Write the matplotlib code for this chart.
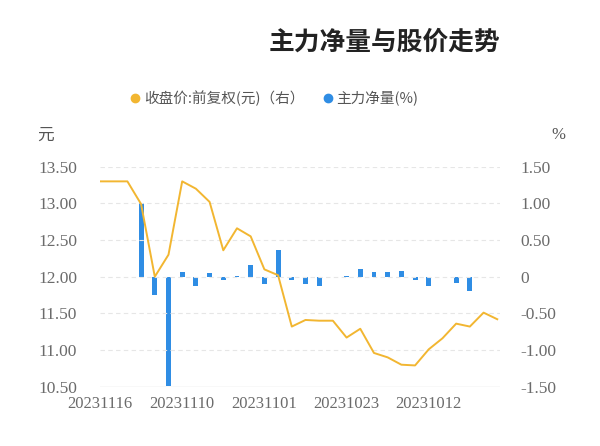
import matplotlib
matplotlib.use("Agg")
import matplotlib.pyplot as plt
from matplotlib.lines import Line2D
import numpy as np

plt.rcParams['font.family'] = ['Noto Sans CJK SC', 'DejaVu Sans']

# data, in display order (left -> right)
price = [13.30, 13.30, 13.30, 12.99, 12.00, 12.30, 13.30, 13.20, 13.02, 12.36,
         12.66, 12.55, 12.10, 12.02, 11.32, 11.41, 11.40, 11.40, 11.17, 11.29,
         10.96, 10.90, 10.80, 10.79, 11.01, 11.16, 11.36, 11.32, 11.51, 11.42]
net_pct = [0.0, 0.0, 0.0, 1.00, -0.25, -1.49, 0.06, -0.13, 0.05, -0.05,
           0.01, 0.16, -0.10, 0.36, -0.04, -0.10, -0.12, -0.01, 0.01, 0.11,
           0.06, 0.07, 0.08, -0.05, -0.12, -0.01, -0.09, -0.20, -0.01, -0.01]
tick_idx = [0, 6, 12, 18, 24]
tick_labels = ["20231116", "20231110", "20231101", "20231023", "20231012"]
price_ticks = [10.5, 11.0, 11.5, 12.0, 12.5, 13.0, 13.5]
pct_ticks = [-1.5, -1.0, -0.5, 0.0, 0.5, 1.0, 1.5]

BLUE = '#2f8de4'
GOLD = '#f2b631'
SERIF = 'Liberation Serif'
TXT = '#6b6b6b'

fig = plt.figure(figsize=(6, 4.46), dpi=100)
ax = fig.add_axes([100 / 600, 1 - 386.7 / 446, 400 / 600, 220 / 446])
ax2 = ax.twinx()

x = np.arange(len(price))
ax2.bar(x, net_pct, width=0.36, color=BLUE, zorder=2)
ax.plot(x, price, color=GOLD, lw=1.4, zorder=3)
ax.set_zorder(ax2.get_zorder() + 1)
ax.patch.set_visible(False)

ax.set_xlim(0, 29.2)
ax.set_ylim(10.5, 13.5)
ax2.set_ylim(-1.5, 1.5)

ax.set_yticks(price_ticks)
ax.set_yticklabels(['%.2f' % v for v in price_ticks], family=SERIF, fontsize=12.5, color=TXT)
ax2.set_yticks(pct_ticks)
ax2.set_yticklabels(['0' if v == 0 else '%.2f' % v for v in pct_ticks],
                    family=SERIF, fontsize=12.5, color=TXT)
ax.set_xticks(tick_idx)
ax.set_xticklabels(tick_labels, family=SERIF, fontsize=12, color=TXT)

ax.tick_params(axis='y', length=0, pad=16.5)
ax2.tick_params(axis='y', length=0, pad=14.5)
ax.tick_params(axis='x', length=0, pad=7)

for a in (ax, ax2):
    for s in a.spines.values():
        s.set_visible(False)
for v in price_ticks[1:]:
    ax.axhline(v, color='#e6e6e6', lw=0.8, ls=(0, (4, 3)), zorder=0)
ax.axhline(10.5, color='#dddddd', lw=1.0, zorder=0)

fig.text(46 / 600, 1 - 135 / 446, '元', ha='center', va='center', fontsize=12, color='#555555')
fig.text(558 / 600, 1 - 135 / 446, '%', ha='center', va='center', fontsize=12,
         color='#555555', family=SERIF)

fig.text(500 / 600, 1 - 42 / 446, '主力净量与股价走势', ha='right', va='center',
         fontsize=18.5, fontweight='bold', color='#222222')

handles = [Line2D([], [], marker='o', ls='', color=GOLD, markersize=6),
           Line2D([], [], marker='o', ls='', color=BLUE, markersize=6)]
fig.legend(handles, ['收盘价:前复权(元)（右）', '主力净量(%)'], ncol=2, frameon=False,
           loc='center', bbox_to_anchor=(274 / 600, 1 - 98 / 446), fontsize=10.5,
           handletextpad=0.2, columnspacing=1.2, labelcolor='#555555', handlelength=0.8)

fig.savefig('out.png', dpi=100)
